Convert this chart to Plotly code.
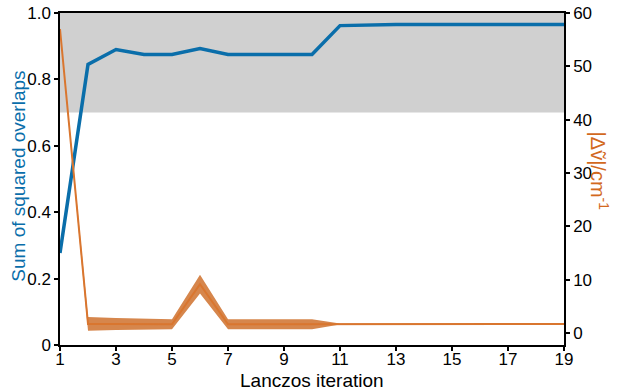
import plotly.graph_objects as go

iterations = list(range(1, 20))
overlap = [0.277, 0.845, 0.890, 0.875, 0.875, 0.893, 0.875, 0.875, 0.875, 0.875,
           0.962, 0.964, 0.965, 0.965, 0.965, 0.965, 0.965, 0.965, 0.965]
freq_upper = [57.2, 3.0, 2.8, 2.7, 2.6, 10.9, 2.6, 2.6, 2.6, 2.6,
              1.8, 1.8, 1.8, 1.8, 1.8, 1.8, 1.8, 1.8, 1.8]
freq_lower = [56.8, 0.4, 0.55, 0.6, 0.7, 7.4, 0.7, 0.7, 0.7, 0.7,
              1.6, 1.6, 1.6, 1.6, 1.6, 1.6, 1.6, 1.6, 1.6]
freq_mid = [(a + b) / 2 for a, b in zip(freq_upper, freq_lower)]

x_ticks = list(range(1, 20, 2))
y_ticks = [0, 0.2, 0.4, 0.6, 0.8, 1.0]
y_ticklabels = ["0", "0.2", "0.4", "0.6", "0.8", "1.0"]
y2_ticks = [0, 10, 20, 30, 40, 50, 60]

BLUE = "#0a6eaa"
ORANGE = "#d9762f"
FILL = "#d6864c"
FONT = "Liberation Sans, Arial, sans-serif"

fig = go.Figure()

fig.add_trace(go.Scatter(x=iterations, y=freq_lower, yaxis="y2", mode="lines",
                         line=dict(color=FILL, width=0), showlegend=False,
                         hoverinfo="skip"))
fig.add_trace(go.Scatter(x=iterations, y=freq_upper, yaxis="y2", mode="lines",
                         line=dict(color=FILL, width=0), fill="tonexty",
                         fillcolor=FILL, showlegend=False, hoverinfo="skip"))
fig.add_trace(go.Scatter(x=iterations, y=freq_mid, yaxis="y2", mode="lines",
                         line=dict(color=ORANGE, width=2), showlegend=False))
fig.add_trace(go.Scatter(x=iterations, y=overlap, yaxis="y", mode="lines",
                         line=dict(color=BLUE, width=3.5), showlegend=False))

fig.add_shape(type="rect", xref="paper", yref="y", x0=0, x1=1, y0=0.7, y1=1.0,
              fillcolor="#d0d0d0", line=dict(width=0), layer="below")

axis_common = dict(showline=True, linecolor="black", linewidth=1.5,
                   ticks="outside", ticklen=4, tickwidth=1.5, tickcolor="black",
                   showgrid=False, zeroline=False, automargin=False,
                   tickfont=dict(family=FONT, size=17, color="black"))

fig.update_layout(
    width=626, height=390,
    margin=dict(l=60, r=62, t=13, b=45),
    paper_bgcolor="white", plot_bgcolor="white",
    font=dict(family=FONT, size=17, color="black"),
    xaxis=dict(range=[1, 19], tickvals=x_ticks, mirror=True,
               ticklabelstandoff=-6, **axis_common),
    yaxis=dict(range=[0, 1.0], tickvals=y_ticks, ticktext=y_ticklabels, **axis_common),
    yaxis2=dict(range=[-2.25, 60], tickvals=y2_ticks, overlaying="y", side="right",
                **axis_common),
)

fig.add_annotation(text="Lanczos iteration", xref="paper", yref="paper",
                   x=0.5, y=-0.107, xanchor="center", yanchor="middle",
                   showarrow=False, font=dict(family=FONT, size=19, color="black"))
fig.add_annotation(text="Sum of squared overlaps", xref="paper", yref="paper",
                   x=-0.084, y=0.509, xanchor="center", yanchor="middle",
                   textangle=-90, showarrow=False,
                   font=dict(family=FONT, size=19, color=BLUE))
fig.add_annotation(text="|Δṽ|/cm<sup>-1</sup>", xref="paper", yref="paper",
                   x=1.071, y=0.523, xanchor="center", yanchor="middle",
                   textangle=90, showarrow=False,
                   font=dict(family=FONT, size=20, color="#d2691e"))

fig.write_html("out.html")
